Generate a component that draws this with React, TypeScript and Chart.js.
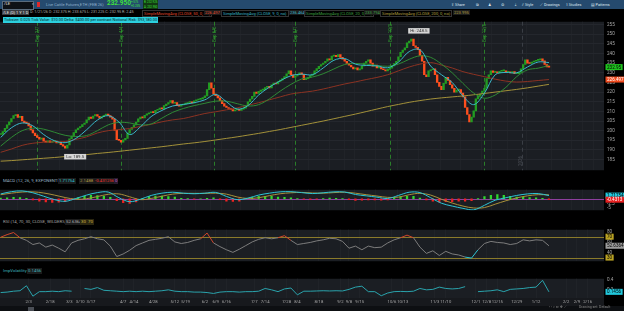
import React, { useEffect, useRef } from "react";
import { Chart, registerables } from "chart.js";
Chart.register(...registerables);

// ---------------- data ----------------
const lastDate = "2026-01-21";
const holidays = ["2025-01-20","2025-02-17","2025-04-18","2025-05-26","2025-06-19","2025-07-04","2025-09-01","2025-11-27","2025-12-25","2026-01-01","2026-01-19"];
const futureDays = 26;

const closes = [
  198.0,199.5,201.2,203.0,204.6,206.3,207.8,208.4,206.9,207.5,
  205.0,204.2,204.0,202.5,200.4,198.8,197.4,196.5,195.6,196.2,
  194.6,194.0,194.8,193.9,194.3,194.6,193.6,194.1,192.8,192.0,
  191.0,192.6,195.8,197.2,199.0,200.5,201.4,202.1,203.2,204.0,
  205.6,207.0,206.4,207.6,208.4,207.5,206.5,207.3,208.0,208.6,
  207.8,207.0,206.0,200.2,195.4,195.0,194.0,195.2,196.0,198.7,
  200.6,201.8,203.0,204.5,206.1,207.0,206.6,208.0,208.7,209.3,
  209.8,209.4,210.6,211.0,211.7,211.3,213.0,213.8,214.6,215.6,
  214.2,214.6,213.0,212.7,213.3,213.8,214.0,214.6,215.0,214.4,
  215.5,215.9,216.2,216.5,217.1,218.0,221.3,224.8,222.0,219.0,
  218.2,217.0,215.6,214.0,212.7,212.0,211.5,211.0,210.3,210.8,
  211.0,210.5,211.2,211.7,213.0,215.0,216.4,217.8,220.0,219.3,
  220.4,221.0,221.3,222.4,223.0,222.2,223.8,224.7,224.2,225.5,
  226.2,227.0,228.1,229.5,231.0,229.0,227.6,228.4,229.0,230.0,
  229.2,226.5,227.0,227.5,228.6,229.3,231.0,232.2,233.4,234.3,
  235.1,236.0,237.2,236.7,238.6,239.0,238.4,239.5,238.0,237.0,
  236.0,234.8,233.9,233.0,232.0,232.6,231.5,232.0,233.5,235.0,
  236.0,236.7,235.0,233.4,234.0,232.5,232.8,232.0,231.6,231.0,
  231.8,232.4,233.6,234.8,236.0,238.3,240.6,241.8,243.0,245.5,
  246.4,247.5,244.0,243.2,242.0,239.0,236.0,229.0,228.0,231.0,
  231.6,232.0,229.0,225.0,223.0,221.3,224.5,227.6,226.0,223.8,
  222.0,220.0,221.0,221.3,219.5,217.5,212.0,208.4,204.5,207.0,
  210.3,216.5,218.0,219.0,220.5,222.0,227.0,229.0,231.0,230.2,
  230.5,230.0,230.8,231.0,231.0,230.3,230.5,230.0,230.6,229.5,
  229.5,230.2,232.0,234.3,236.7,235.0,234.8,235.6,236.0,236.4,
  236.7,237.2,236.2,234.3,233.0,232.95,
];

// moving averages sampled every 5 trading days
const smaStep = 5;
const sma9 = [196.5,201.5,204.0,202.5,198.0,194.8,193.8,196.0,200.5,205.5,207.8,204.5,198.0,202.0,207.3,210.5,212.8,213.6,214.5,216.0,218.8,215.0,211.2,213.0,218.5,222.6,225.8,228.5,229.3,229.0,232.5,236.5,237.4,234.5,233.8,233.6,232.6,235.5,241.0,242.0,233.5,229.0,225.0,218.0,213.5,219.5,229.0,230.2,230.0,233.0,235.6,235.3];
const sma20 = [192.0,196.5,200.0,201.3,200.8,199.2,197.6,197.0,197.5,200.0,203.0,204.3,204.0,203.0,203.5,206.5,209.5,211.5,213.0,214.2,215.3,215.3,214.0,212.8,213.5,216.5,220.5,224.0,226.8,227.8,229.5,232.0,234.3,234.8,234.5,233.8,233.4,234.5,237.0,238.8,238.0,234.5,230.0,224.5,219.5,216.8,218.5,222.5,228.0,231.5,232.4,233.8];
const sma50 = [188.8,190.5,192.4,193.5,194.0,194.2,194.4,195.5,196.8,198.8,200.0,200.6,201.1,202.2,203.3,204.6,205.6,206.3,207.6,208.9,209.8,210.8,211.8,213.2,214.5,216.0,217.5,219.0,219.8,220.5,221.6,222.9,224.2,225.3,226.5,227.6,229.0,231.0,233.0,234.5,235.3,234.0,232.5,230.6,229.2,228.0,226.7,225.7,225.2,225.5,226.0,226.5];
const sma200 = [184.2,184.5,184.9,185.3,185.7,186.1,186.6,187.1,187.6,188.2,188.7,189.3,189.9,190.5,191.1,191.7,192.4,193.1,193.7,194.4,195.2,196.0,196.8,197.7,198.6,199.6,200.6,201.7,202.8,203.9,205.0,206.2,207.4,208.6,209.9,211.2,212.5,213.6,214.7,215.6,216.4,217.0,217.5,218.0,218.6,219.3,220.0,220.7,221.4,222.2,223.1,224.0];

// MACD lines sampled every 5 trading days
const macdStep = 5;
const macdValue = [2.6,3.8,4.2,3.2,1.4,-0.4,-1.3,0.2,2.0,3.3,3.6,0.6,-1.5,-0.2,1.8,3.0,3.5,3.0,2.7,3.0,3.4,1.3,-0.4,0.4,2.0,3.0,3.7,3.8,3.3,2.8,3.2,3.7,3.6,2.3,1.6,0.9,0.2,1.8,3.5,3.3,0.6,-2.3,-3.8,-5.0,-5.8,-3.4,-0.7,0.6,1.8,2.6,2.8,1.71754];
const macdAvg = [2.2,3.0,3.6,3.7,3.1,2.0,0.7,-0.2,0.1,1.2,2.4,2.6,1.1,-0.4,0.2,1.4,2.5,2.9,2.9,2.9,3.0,2.5,1.0,0.2,0.6,1.7,2.7,3.2,3.4,3.1,3.0,3.3,3.5,3.0,2.2,1.5,0.8,0.9,2.2,2.9,2.0,-0.2,-2.2,-3.8,-4.8,-4.6,-2.8,-1.0,0.5,1.6,2.2,2.1488];

// sub-studies sampled every 3 trading days
const subStep = 3;
const macdDiff = [0.4,0.6,0.8,0.7,0.3,-0.5,-1.2,-1.6,-1.9,-1.8,-1.5,-0.4,0.6,1.4,1.8,1.7,1.4,0.8,-1.0,-2.0,-2.4,-1.6,0.2,1.2,1.5,1.5,1.2,0.9,0.3,0.1,-0.2,0.0,0.3,0.5,-0.4,-1.2,-1.4,-1.2,0.0,0.8,1.3,1.3,1.3,1.0,0.8,0.6,0.1,-0.2,-0.3,-0.1,0.2,0.4,0.3,0.2,-0.4,-0.8,-0.7,-0.6,-0.6,-0.7,-0.6,0.4,1.1,1.4,1.4,0.4,-0.5,-1.2,-1.8,-1.5,-1.5,-1.2,-1.2,-1.0,0.2,1.2,1.9,2.2,1.8,1.4,1.0,0.8,0.7,0.6,0.3,-0.431256];
const rsi = [69,74,78,68,63,55,58,50,54,48,41,58,63,66,70,66,64,52,32,37,44,53,58,63,65,67,70,60,57,59,63,66,77,58,51,45,40,46,53,60,65,68,66,68,72,63,55,57,59,62,64,67,66,61,48,52,45,52,49,50,58,64,68,73,68,50,38,43,34,42,37,35,31,29,45,57,61,59,58,55,57,64,62,64,63,52.6364];
const impVol: (number | null)[] = [0.13,0.14,0.16,0.17,0.28,0.05,0.15,0.15,0.16,0.15,0.17,0.16,null,0.22,0.20,0.24,0.18,0.17,0.16,0.15,0.16,0.15,0.16,0.15,0.16,0.17,0.19,0.16,0.15,0.15,0.14,0.14,0.13,0.11,0.14,0.15,0.15,0.14,0.15,0.15,0.16,0.22,0.19,0.15,0.21,0.23,0.08,0.16,0.16,0.165,0.17,0.165,0.17,0.165,0.2,0.25,0.27,0.15,0.15,0.06,0.12,0.15,0.155,0.15,0.16,0.22,0.19,0.2,0.25,0.22,0.21,0.22,0.26,null,0.15,0.16,0.17,0.19,0.15,0.2,0.21,0.22,0.24,0.25,0.40,0.1456];

const dateTicks = ["2025-02-03","2025-02-18","2025-03-03","2025-03-10","2025-03-17","2025-04-07","2025-04-14","2025-04-28","2025-05-12","2025-05-19","2025-06-02","2025-06-09","2025-06-16","2025-07-07","2025-07-14","2025-07-28","2025-08-04","2025-08-18","2025-09-02","2025-09-08","2025-09-15","2025-10-06","2025-10-13","2025-11-03","2025-11-10","2025-12-01","2025-12-08","2025-12-15","2025-12-29","2026-01-12","2026-02-02","2026-02-09","2026-02-16"];
const expirations = ["2025-02-07","2025-04-04","2025-06-06","2025-08-01","2025-10-03","2025-12-05"];
const yearMark = "2026-01-02";
const highMark = { date: "2025-10-16", value: 248.5, text: "Hi: 248.5" };
const lowMark = { date: "2025-02-27", value: 189.5, text: "Lo: 189.5" };
const priceTicks = [185,190,195,200,205,210,215,220,225,230,235,240,245,250,255];

// ---------------- helpers ----------------
const iso = (d: Date) => d.toISOString().slice(0, 10);
function buildDates(): string[] {
  const hol = new Set(holidays);
  const back: string[] = [];
  const d = new Date(lastDate + "T00:00:00Z");
  while (back.length < closes.length) {
    const wd = d.getUTCDay();
    const s = iso(d);
    if (wd !== 0 && wd !== 6 && !hol.has(s)) back.unshift(s);
    d.setUTCDate(d.getUTCDate() - 1);
  }
  const fwd: string[] = [];
  const f = new Date(lastDate + "T00:00:00Z");
  while (fwd.length < futureDays) {
    f.setUTCDate(f.getUTCDate() + 1);
    const wd = f.getUTCDay();
    if (wd !== 0 && wd !== 6) fwd.push(iso(f));
  }
  return back.concat(fwd);
}
const dates = buildDates();
const idxOf = (s: string) => dates.indexOf(s);
const md = (s: string) => { const p = s.split("-"); return +p[1] + "/" + +p[2]; };
const tickIdx = dateTicks.map(idxOf).filter((i) => i >= 0);

const X_MIN = -0.3;
const X_MAX = 280.6;
const PLOT_BG = "#1b1e23";
const GRID = "#24272d";
const AXIS_W = 20;
const FONT = "Roboto, 'DejaVu Sans', sans-serif";

const sampled = (arr: (number | null)[], step: number) => arr.map((v, k) => ({ x: k * step, y: v }));

function bgPlugin(fillAxisBottom?: string) {
  return {
    id: "bgfill",
    beforeDraw(chart: any) {
      const { ctx, chartArea: a } = chart;
      ctx.save();
      ctx.fillStyle = PLOT_BG;
      ctx.fillRect(a.left, a.top, a.right - a.left, a.bottom - a.top);
      if (fillAxisBottom) {
        ctx.fillStyle = fillAxisBottom;
        ctx.fillRect(0, a.bottom, a.right, chart.height - a.bottom);
      }
      ctx.restore();
    },
  };
}

type Tag = { value: number; text: string; bg: string; fg: string };
function tagsPlugin(tags: Tag[]) {
  return {
    id: "tags",
    afterDraw(chart: any) {
      const { ctx, chartArea: a } = chart;
      const y = chart.scales.y;
      ctx.save();
      ctx.font = "4.6px " + FONT;
      ctx.textBaseline = "middle";
      tags.forEach((t) => {
        const py = y.getPixelForValue(t.value);
        const w = Math.max(ctx.measureText(t.text).width + 3, 8);
        ctx.fillStyle = t.bg;
        ctx.fillRect(a.right + 1.5, py - 3, w, 6);
        ctx.fillStyle = t.fg;
        ctx.fillText(t.text, a.right + 3, py + 0.3);
      });
      ctx.restore();
    },
  };
}

function hLinesPlugin(lines: { value: number; color: string }[]) {
  return {
    id: "hlines",
    beforeDatasetsDraw(chart: any) {
      const { ctx, chartArea: a } = chart;
      const y = chart.scales.y;
      ctx.save();
      ctx.lineWidth = 1;
      lines.forEach((l) => {
        const py = Math.round(y.getPixelForValue(l.value)) + 0.5;
        ctx.strokeStyle = l.color;
        ctx.beginPath();
        ctx.moveTo(a.left, py);
        ctx.lineTo(a.right, py);
        ctx.stroke();
      });
      ctx.restore();
    },
  };
}

const priceMarksPlugin = {
  id: "priceMarks",
  beforeDatasetsDraw(chart: any) {
    const { ctx, chartArea: a } = chart;
    const x = chart.scales.x;
    ctx.save();
    ctx.lineWidth = 1;
    ctx.setLineDash([4, 3]);
    ctx.strokeStyle = "#2a7d2a";
    expirations.forEach((d) => {
      const px = Math.round(x.getPixelForValue(idxOf(d))) + 0.5;
      ctx.beginPath();
      ctx.moveTo(px, a.top);
      ctx.lineTo(px, a.bottom);
      ctx.stroke();
    });
    ctx.strokeStyle = "#3a3e45";
    const yx = Math.round(x.getPixelForValue(idxOf(yearMark) - 0.5)) + 0.5;
    ctx.beginPath();
    ctx.moveTo(yx, a.top);
    ctx.lineTo(yx, a.bottom);
    ctx.stroke();
    ctx.setLineDash([]);
    ctx.fillStyle = "#4a4e55";
    ctx.font = "4.5px " + FONT;
    ctx.translate(yx - 1, 150);
    ctx.rotate(-Math.PI / 2);
    ctx.fillText(yearMark.slice(0, 4), 0, 0);
    ctx.restore();
    ctx.save();
    ctx.fillStyle = "#2f9a2f";
    ctx.font = "4.5px " + FONT;
    expirations.forEach((d) => {
      const px = Math.round(x.getPixelForValue(idxOf(d)));
      ctx.save();
      ctx.translate(px + 2, a.top + 20);
      ctx.rotate(-Math.PI / 2);
      ctx.fillText("Exp " + md(d), 0, 0);
      ctx.restore();
    });
    ctx.restore();
  },
  afterDatasetsDraw(chart: any) {
    const { ctx } = chart;
    const x = chart.scales.x;
    const y = chart.scales.y;
    ctx.save();
    ctx.font = "4.4px " + FONT;
    ctx.textBaseline = "middle";
    const box = (m: { date: string; value: number; text: string }, above: boolean) => {
      const px = x.getPixelForValue(idxOf(m.date));
      const py = y.getPixelForValue(m.value);
      const w = ctx.measureText(m.text).width + 4;
      const by = above ? py - 9 : py + 3;
      ctx.fillStyle = "#d6d6d6";
      ctx.fillRect(px - 1, by, w, 5.5);
      ctx.fillStyle = "#333";
      ctx.fillText(m.text, px + 1, by + 3);
    };
    box(highMark, true);
    box(lowMark, false);
    ctx.restore();
  },
};

function rightAxis(min: number, max: number, ticks: number[], grid = true) {
  return {
    position: "right" as const,
    min,
    max,
    afterFit: (s: any) => { s.width = AXIS_W; },
    afterBuildTicks: (s: any) => { s.ticks = ticks.map((v) => ({ value: v })); },
    ticks: { color: "#a8a8a8", font: { size: 4.6, family: FONT }, padding: 3, callback: (v: any) => String(v) },
    grid: { color: grid ? GRID : "transparent", drawTicks: false },
    border: { display: false },
  };
}

function xAxis(showLabels: boolean) {
  return {
    type: "linear" as const,
    min: X_MIN,
    max: X_MAX,
    offset: false,
    afterBuildTicks: (s: any) => { s.ticks = tickIdx.map((v) => ({ value: v })); },
    afterFit: (s: any) => { s.height = showLabels ? 8 : 0; },
    ticks: {
      display: showLabels,
      autoSkip: false,
      maxRotation: 0,
      color: "#a8a8a8",
      font: { size: 4.2, family: FONT },
      padding: 1.5,
      callback: (v: any) => (dates[v] ? md(dates[v]) : ""),
    },
    grid: { color: "#202328", drawTicks: false },
    border: { display: false },
  };
}

const baseOptions = {
  responsive: false,
  animation: false as const,
  events: [] as any[],
  layout: { padding: 0 },
  plugins: { legend: { display: false }, tooltip: { enabled: false } },
};

function useChart(ref: React.RefObject<HTMLCanvasElement>, build: () => any) {
  useEffect(() => {
    if (!ref.current) return;
    const c = new Chart(ref.current, build());
    return () => c.destroy();
  }, []);
}

const UP = "#229c22";
const DOWN = "#ff4f1e";

function PriceChart() {
  const ref = useRef<HTMLCanvasElement>(null);
  useChart(ref, () => {
    const opens = closes.map((c, i) => (i === 0 ? c : closes[i - 1]));
    const line = (data: number[], color: string, order: number) => ({
      type: "line",
      data: sampled(data, smaStep),
      borderColor: color,
      borderWidth: 1,
      pointRadius: 0,
      tension: 0.35,
      order,
    });
    return {
      type: "bar",
      data: {
        datasets: [
          line(sma200, "#a3913a", 4),
          line(sma50, "#8c3323", 3),
          line(sma20, "#2f8a35", 2),
          line(sma9, "#3ab8c9", 1),
          {
            type: "bar",
            data: closes.map((c, i) => ({ x: i, y: [opens[i], c] })),
            backgroundColor: closes.map((c, i) => (c >= opens[i] ? UP : DOWN)),
            barThickness: 1.7,
            minBarLength: 1,
            grouped: false,
            order: 10,
          },
        ],
      },
      options: {
        ...baseOptions,
        scales: { x: xAxis(false), y: rightAxis(179.5, 256.45, priceTicks) },
      },
      plugins: [
        bgPlugin(),
        priceMarksPlugin,
        tagsPlugin([
          { value: closes[closes.length - 1], text: "232.95", bg: "#1fc41f", fg: "#000" },
          { value: sma50[sma50.length - 1], text: "226.497", bg: "#f04a1e", fg: "#fff" },
        ]),
      ],
    };
  });
  return <canvas ref={ref} width={624} height={160} style={{ position: "absolute", left: 0, top: 16 }} />;
}

function MacdChart() {
  const ref = useRef<HTMLCanvasElement>(null);
  useChart(ref, () => ({
    type: "bar",
    data: {
      datasets: [
        { type: "line", data: sampled(macdAvg, macdStep), borderColor: "#a8903a", borderWidth: 1, pointRadius: 0, tension: 0.35, order: 2 },
        { type: "line", data: sampled(macdValue, macdStep), borderColor: "#2cc4d4", borderWidth: 1, pointRadius: 0, tension: 0.35, order: 1 },
        {
          type: "bar",
          data: sampled(macdDiff, subStep),
          backgroundColor: macdDiff.map((v) => (v >= 0 ? "#2fd82f" : "#ee2222")),
          barThickness: 1.6,
          grouped: false,
          order: 5,
        },
      ],
    },
    options: { ...baseOptions, scales: { x: xAxis(false), y: rightAxis(-6, 4.8, [-2.5, -5], false) } },
    plugins: [
      bgPlugin(),
      hLinesPlugin([{ value: 0, color: "#8e3f9e" }]),
      tagsPlugin([
        { value: macdValue[macdValue.length - 1], text: "1.71754", bg: "#22c8dc", fg: "#000" },
        { value: macdDiff[macdDiff.length - 1], text: "-0.4313", bg: "#e82020", fg: "#fff" },
      ]),
    ],
  }));
  return <canvas ref={ref} width={624} height={32} style={{ position: "absolute", left: 0, top: 184 }} />;
}

function RsiChart() {
  const ref = useRef<HTMLCanvasElement>(null);
  useChart(ref, () => ({
    type: "line",
    data: {
      datasets: [
        {
          data: sampled(rsi, subStep),
          borderColor: "#7c7c7c",
          borderWidth: 1,
          pointRadius: 0,
          segment: {
            borderColor: (c: any) =>
              c.p0.parsed.y > 70 || c.p1.parsed.y > 70 ? "#d2452a" : c.p0.parsed.y < 30 || c.p1.parsed.y < 30 ? "#2cc4d4" : "#7c7c7c",
          },
        },
      ],
    },
    options: { ...baseOptions, scales: { x: xAxis(false), y: rightAxis(23, 83.3, [80, 60, 40], false) } },
    plugins: [
      bgPlugin(),
      hLinesPlugin([{ value: 70, color: "#8a7a2a" }, { value: 30, color: "#8a7a2a" }]),
      tagsPlugin([
        { value: 70, text: "70", bg: "#b9a224", fg: "#000" },
        { value: 30, text: "30", bg: "#b9a224", fg: "#000" },
        { value: rsi[rsi.length - 1], text: "52.6364", bg: "#9c9c9c", fg: "#000" },
      ]),
    ],
  }));
  return <canvas ref={ref} width={624} height={43} style={{ position: "absolute", left: 0, top: 224 }} />;
}

function IvChart() {
  const ref = useRef<HTMLCanvasElement>(null);
  useChart(ref, () => ({
    type: "line",
    data: {
      datasets: [
        { data: sampled(impVol, subStep), borderColor: "#2aa3ac", borderWidth: 1, pointRadius: 0, spanGaps: false },
      ],
    },
    options: { ...baseOptions, scales: { x: xAxis(true), y: rightAxis(0.01, 0.434, [0.4, 0.2], false) } },
    plugins: [
      bgPlugin("#17191d"),
      tagsPlugin([{ value: impVol[impVol.length - 1] as number, text: "0.1456", bg: "#22c8dc", fg: "#000" }]),
    ],
  }));
  return <canvas ref={ref} width={624} height={33} style={{ position: "absolute", left: 0, top: 273 }} />;
}

// ---------------- text overlays ----------------
type TP = { x: number; y: number; s?: number; c?: string; bg?: string; b?: string; bold?: boolean; children: React.ReactNode };
const T = ({ x, y, s = 4.1, c = "#bbb", bg, b, bold, children }: TP) => (
  <div
    style={{
      position: "absolute",
      left: x,
      top: y,
      fontSize: s,
      lineHeight: s + 1.4 + "px",
      color: c,
      background: bg,
      border: b ? "0.5px solid " + b : undefined,
      padding: "0 1px",
      whiteSpace: "nowrap",
      fontWeight: bold ? 700 : 400,
      fontFamily: FONT,
    }}
  >
    {children}
  </div>
);

export default function App() {
  return (
    <div style={{ position: "relative", width: 624, height: 311, background: "#000", overflow: "hidden", fontFamily: FONT }}>
      <style>{"body{margin:0;background:#000}"}</style>
      {/* top toolbar */}
      <div style={{ position: "absolute", left: 0, top: 0, width: 624, height: 9, background: "#254a6e" }} />
      <div style={{ position: "absolute", left: 2, top: 1, width: 30, height: 7, background: "#0e1116", border: "0.5px solid #5a6b7c" }} />
      <T x={3} y={1.3} c="#e6e6e6" s={4}>/LE</T>
      <T x={31} y={1.5} c="#ccc" s={3}>▾</T>
      <div style={{ position: "absolute", left: 37, top: 2, width: 3, height: 5, background: "#e02828" }} />
      <T x={45} y={1.5} c="#8fb0cc" s={4}>Live Cattle Futures,ETH (FEB 26)</T>
      <T x={106} y={0} c="#3ee03e" s={6.4} bold>232.950</T>
      <T x={130} y={0.3} c="#3ee03e" s={2.8}>+.575</T>
      <T x={130} y={4.3} c="#3ee03e" s={2.8}>+0.25%</T>
      <T x={143} y={0.4} c="#3ee03e" s={2.8} bg="#123a12">B: 232.925</T>
      <T x={143} y={4.5} c="#3ee03e" s={2.8} bg="#123a12">A: 232.950</T>
      <T x={450} y={1.7} c="#dfe8f0" s={3.8}>⇪ Share</T>
      <T x={475} y={1.7} c="#dfe8f0" s={3.8}>⧉</T>
      <T x={487} y={1.7} c="#dfe8f0" s={3.8}>♟</T>
      <T x={500} y={1.7} c="#dfe8f0" s={3.8}>⚙</T>
      <T x={513} y={1.7} c="#dfe8f0" s={3.8}>⇣</T>
      <T x={521} y={1.7} c="#dfe8f0" s={3.8}>⫽ Style</T>
      <T x={539} y={1.7} c="#dfe8f0" s={3.8}>⟋ Drawings</T>
      <T x={565} y={1.7} c="#dfe8f0" s={3.8}>⌇ Studies</T>
      <T x={590} y={1.7} c="#dfe8f0" s={3.8}>▤ Patterns</T>

      {/* study header row */}
      <T x={2} y={9.6} s={3.9} c="#eee" bg="#3a3d42">/LE (D) 1 Y 1 D</T>
      <T x={29} y={9.6} s={3.75} c="#b5b5b5">D: 1/21/26  O: 232.375  H: 233.675  L: 231.225  C: 232.95  R: 2.45</T>
      <T x={142} y={9.6} c="#e04a2c" b="#333">SimpleMovingAvg (CLOSE, 50, 0, no)</T>
      <T x={204} y={9.6} c="#e04a2c" bg="#1d1d1d">226.497</T>
      <T x={221} y={9.6} c="#3ab8c9" b="#333">SimpleMovingAvg (CLOSE, 9, 0, no)</T>
      <T x={289} y={9.6} c="#3ab8c9" bg="#1d1d1d">236.464</T>
      <T x={304} y={9.6} c="#3fa043" b="#333">SimpleMovingAvg (CLOSE, 20, 0, no)</T>
      <T x={364} y={9.6} c="#3fa043" bg="#1d1d1d">233.794</T>
      <T x={380} y={9.6} c="#b4a040" b="#333">SimpleMovingAvg (CLOSE, 200, 0, no)</T>
      <T x={453} y={9.6} c="#b4a040" bg="#1d1d1d">223.995</T>

      <PriceChart />
      <T x={3} y={17.2} c="#072a2e" bg="#2cd0de" s={3.95}>Ticksize: 0.025   Tick Value: $10.00   Delta: $400.00 per contract   Notional Risk: $93,180.00</T>

      {/* MACD header */}
      <T x={2} y={178.2} s={4.3} c="#9ab8c8">MACD (12, 26, 9, EXPONENTIAL, no)</T>
      <T x={58} y={178.2} s={4.3} c="#2cc4d4" bg="#1b1b1b">1.71754</T>
      <T x={79} y={178.2} s={4.3} c="#b49a40" bg="#1b1b1b">2.1488</T>
      <T x={94} y={178.2} s={4.3} c="#ee3030" bg="#1b1b1b">-0.431256</T>
      <T x={114} y={178.2} s={4.3} c="#c070d0" bg="#2a1a2e">0</T>
      <MacdChart />

      {/* RSI header */}
      <T x={2} y={219} s={4.3} c="#a0a0a0">RSI (14, 70, 30, CLOSE, WILDERS, no)</T>
      <T x={65} y={219} s={4.3} c="#b0b0b0" bg="#1b1b1b">52.6364</T>
      <T x={80} y={219} s={4.3} c="#d2b840" bg="#2a2610">30</T>
      <T x={87} y={219} s={4.3} c="#d2b840" bg="#2a2610">70</T>
      <RsiChart />

      {/* IV header */}
      <T x={2} y={267.8} s={4.3} c="#3fb5bf">ImpVolatility</T>
      <T x={27} y={267.8} s={4.3} c="#3fb5bf" bg="#1b1b1b">0.1456</T>
      <IvChart />

      {/* bottom bar */}
      <div style={{ position: "absolute", left: 0, top: 306, width: 624, height: 5, background: "#0d0f12" }} />
      <div style={{ position: "absolute", left: 28, top: 306.5, width: 6, height: 4, background: "#4a4e55" }} />
      <T x={548} y={305.4} c="#8a8a8a" s={3.6}>‹ › ⌕ ⇔ ✥ ⟋</T>
      <T x={578} y={305.4} c="#8a8a8a" s={3.5}>Drawing set: Default</T>
    </div>
  );
}
